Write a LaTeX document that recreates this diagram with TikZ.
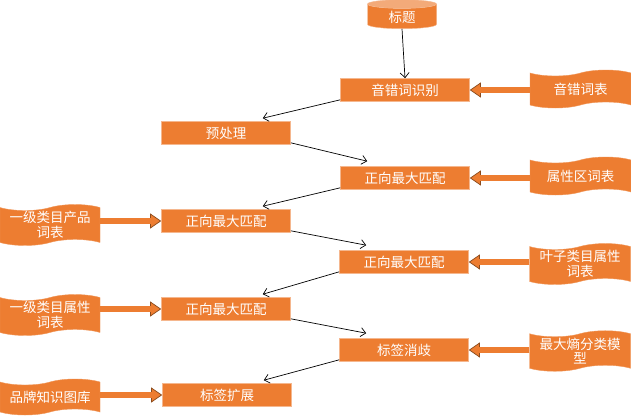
\documentclass[tikz,border=0pt]{standalone}
\usepackage{fontspec}
\newfontfamily\cjk{Noto Sans CJK SC}
\usetikzlibrary{shapes.geometric,shapes.symbols,arrows.meta,calc}
\definecolor{orng}{HTML}{ED7D31}
\definecolor{brn}{HTML}{8A4A1C}
\begin{document}
\begin{tikzpicture}[x=1pt,y=-1pt,
  txt/.style={text=white,font=\cjk\fontsize{13.5}{14.5}\selectfont},
  box/.style={txt,draw=orng!55!white,line width=0.6pt,fill=orng,minimum width=129pt,minimum height=23pt,inner sep=0pt},
  wave/.style={txt,tape,tape bend top=in and out,tape bend bottom=in and out,tape bend height=6pt,fill=orng,draw=orng!80!white,minimum width=101pt,minimum height=38pt,inner sep=1pt,align=center},
  flow/.style={-{Straight Barb[length=5pt,width=9pt]},line width=0.7pt,black},
  fattip/.style={brn,line width=0.7pt,-{Triangle[length=11pt,width=15pt,fill=orng]}},
  fatshaft/.style={brn,line width=0.7pt,double=orng,double distance=5.5pt,shorten >=10pt},
]
\useasboundingbox (0,0) rectangle (631,415);
\fill[white] (0,0) rectangle (631,415);
% nodes
\node[txt,cylinder,shape border rotate=90,aspect=0.3,minimum width=69pt,minimum height=29pt,inner sep=1pt,
  cylinder uses custom fill,cylinder body fill=orng,cylinder end fill=orng!65!white,draw=orng!55!white] (title) at (402,17) {标题};
\node[box] (yin) at (405,90) {音错词识别};
\node[wave] (yinw) at (580.5,89) {音错词表};
\node[box] (pre) at (226,133) {预处理};
\node[box] (m1) at (405,178) {正向最大匹配};
\node[wave] (attrw) at (580.5,176) {属性区词表};
\node[wave,minimum width=100pt] (p1w) at (50,225) {一级类目产品\\词表};
\node[box] (m2) at (226,221) {正向最大匹配};
\node[box] (m3) at (404,262) {正向最大匹配};
\node[wave] (leafw) at (580,264) {叶子类目属性\\词表};
\node[wave,minimum width=100pt] (p2w) at (50,315) {一级类目属性\\词表};
\node[box] (m4) at (226,309) {正向最大匹配};
\node[box] (dis) at (404,350) {标签消歧};
\node[wave] (mew) at (580,351) {最大熵分类模\\型};
\node[wave,minimum width=100pt,minimum height=36pt] (brw) at (50,397) {品牌知识图库};
\node[box] (ext) at (227,395) {标签扩展};
% thin connectors
\draw[flow] (title.south) -- (yin.north);
\draw[flow] ([yshift=2pt]yin.south west) -- ([xshift=-28pt,yshift=3pt]pre.north east);
\draw[flow] ([yshift=2pt]pre.south east) -- ([xshift=27pt,yshift=5pt]m1.north west);
\draw[flow] ([yshift=2pt]m1.south west) -- ([xshift=-28pt,yshift=3pt]m2.north east);
\draw[flow] ([yshift=2pt]m2.south east) -- ([xshift=27pt,yshift=5pt]m3.north west);
\draw[flow] ([yshift=2pt]m3.south west) -- ([xshift=-28pt,yshift=3pt]m4.north east);
\draw[flow] ([yshift=2pt]m4.south east) -- ([xshift=27pt,yshift=5pt]dis.north west);
\draw[flow] ([yshift=2pt]dis.south west) -- ([xshift=-28pt,yshift=3pt]ext.north east);
% fat arrows
\foreach \w/\b in {yinw/yin,attrw/m1,leafw/m3,mew/dis}{
  \draw[fattip] (\w.west |- \b.east) -- (\b.east);
  \draw[fatshaft] (\w.west |- \b.east) -- (\b.east);
}
\foreach \w/\b in {p1w/m2,p2w/m4,brw/ext}{
  \draw[fattip] (\w.east |- \b.west) -- (\b.west);
  \draw[fatshaft] (\w.east |- \b.west) -- (\b.west);
}
\end{tikzpicture}
\end{document}
